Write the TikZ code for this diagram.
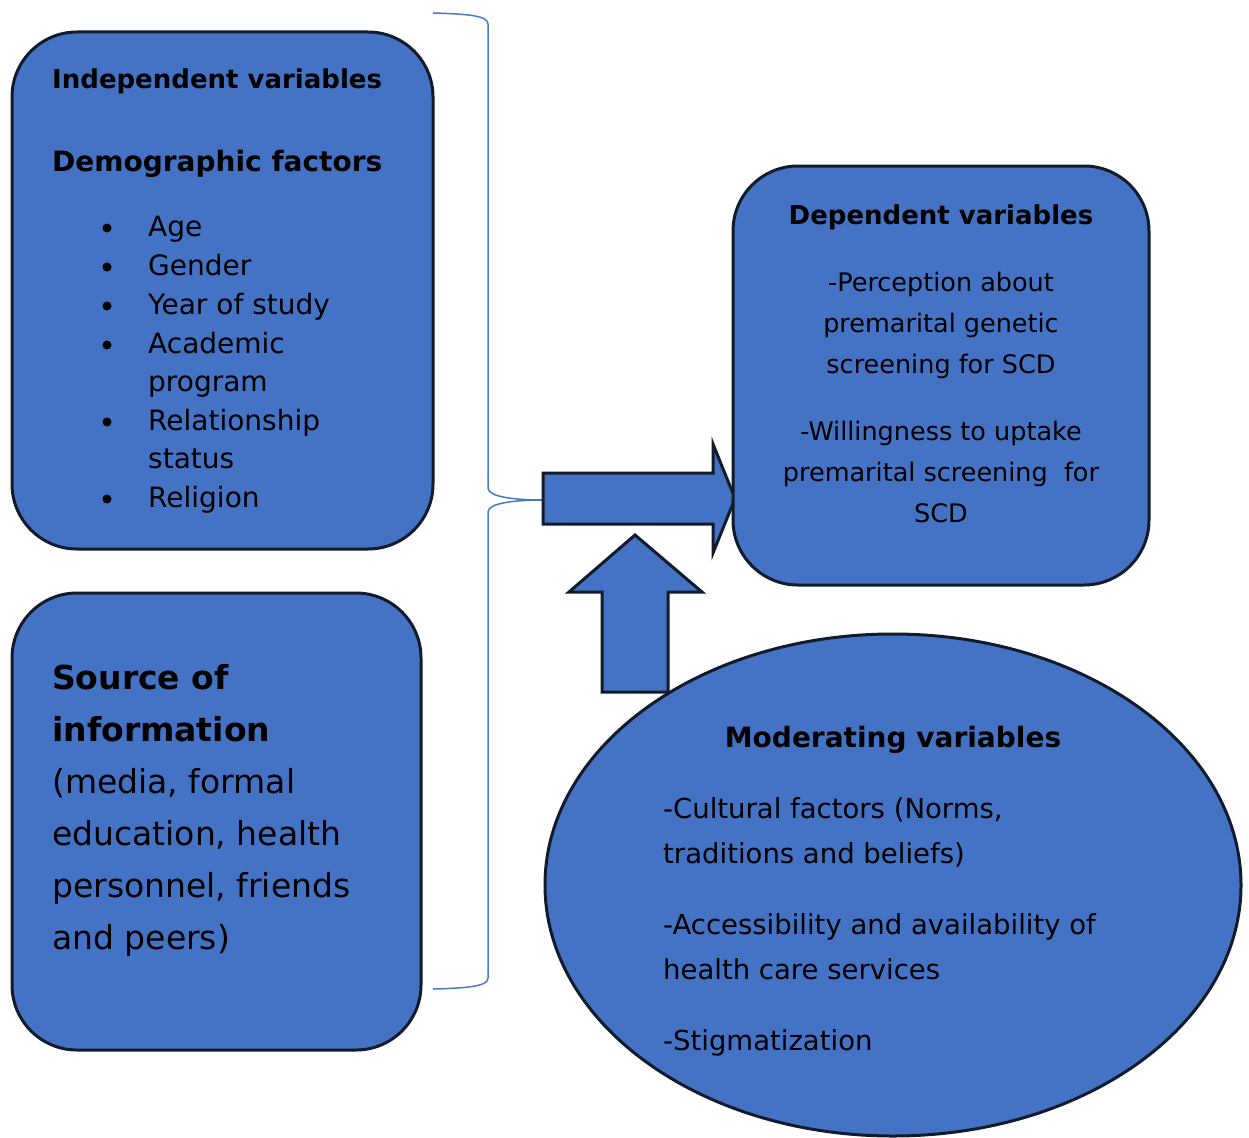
\documentclass[tikz,border=0pt]{standalone}
\usepackage{fontspec}
\setmainfont{DejaVu Sans}
\usetikzlibrary{shapes.geometric}
\definecolor{fillblue}{HTML}{4472C4}
\definecolor{edgec}{HTML}{111B2B}
\definecolor{bracec}{HTML}{4A78CC}
\newcommand\fsTitle{\fontsize{26}{32}\selectfont\bfseries}
\newcommand\fsHead{\fontsize{28}{34}\selectfont\bfseries}
\newcommand\fsList{\fontsize{28}{34}\selectfont}
\newcommand\fsBig{\fontsize{33}{40}\selectfont}
\newcommand\fsDep{\fontsize{25.5}{31}\selectfont}
\newcommand\fsMod{\fontsize{27.5}{33}\selectfont}
\begin{document}
\begin{tikzpicture}[x=1pt,y=-1pt,
  box/.style={draw=edgec, line width=3pt, fill=fillblue, rounded corners=65pt, inner sep=0pt},
  fat/.style={draw=edgec, line width=3pt, fill=fillblue, line join=miter},
  txt/.style={inner sep=0pt, anchor=base west, text=black},
  ctxt/.style={inner sep=0pt, anchor=base, text=black},
  bul/.style={circle, fill=black, inner sep=0pt, minimum size=9pt},
  bracel/.style={draw=bracec, line width=1.5pt},
]
\useasboundingbox (0,0) rectangle (1249,1137);

% brace
\coordinate (btop) at (433,13);
\coordinate (bbot) at (433,989);
\coordinate (btip) at (543,500);
\draw[bracel] (btop) .. controls (470,14) and (488,16) .. (488,24) -- (488,488)
  .. controls (488,497) and (515,500) .. (btip)
  .. controls (515,500) and (488,503) .. (488,512) -- (488,978)
  .. controls (488,986) and (470,988) .. (bbot);

% arrows
\draw[fat] (btip |- 0,473) -- (713,473) -- (713,444) -- (735,498.5) -- (713,553) -- (713,524) -- (btip |- 0,524) -- cycle;
\draw[fat] (602,692) -- (602,592) -- (569,592) -- (635,535) -- (702,592) -- (668,592) -- (668,692) -- cycle;

% boxes
\node[box, minimum width=421pt, minimum height=517pt] (indep) at (222.5,290.5) {};
\node[box, minimum width=409pt, minimum height=457pt] (source) at (216.5,821.5) {};
\node[box, minimum width=416pt, minimum height=419pt] (dep) at (941,375.5) {};
\node[ellipse, draw=edgec, line width=3pt, fill=fillblue, minimum width=696pt, minimum height=502pt, inner sep=0pt] (mod) at (893,885) {};

% independent variables text
\node[txt] (t1) at (52,89) {\fsTitle Independent variables};
\node[txt] (t2) at (52,171) {\fsHead Demographic factors};
\node[txt] (l1) at (148,236) {\fsList Age};
\node[txt] (l2) at (148,275) {\fsList Gender};
\node[txt] (l3) at (148,314) {\fsList Year of study};
\node[txt] (l4) at (148,353) {\fsList Academic};
\node[txt] (l4b) at (148,391) {\fsList program};
\node[txt] (l5) at (148,430) {\fsList Relationship};
\node[txt] (l5b) at (148,468) {\fsList status};
\node[txt] (l6) at (148,507) {\fsList Religion};
\node[bul] (b1) at (107,228) {};
\node[bul] (b2) at (107,267) {};
\node[bul] (b3) at (107,306) {};
\node[bul] (b4) at (107,345) {};
\node[bul] (b5) at (107,422) {};
\node[bul] (b6) at (107,499) {};

% source of information
\node[txt] (s1) at (52,689) {\fsBig\bfseries Source of};
\node[txt] (s2) at (52,741) {\fsBig\bfseries information};
\node[txt] (s3) at (52,793) {\fsBig (media, formal};
\node[txt] (s4) at (52,845) {\fsBig education, health};
\node[txt] (s5) at (52,897) {\fsBig personnel, friends};
\node[txt] (s6) at (52,949) {\fsBig and peers)};

% dependent variables
\node[ctxt] (d0) at (941,224) {\fsTitle Dependent variables};
\node[ctxt] (d1) at (941,291) {\fsDep -Perception about};
\node[ctxt] (d2) at (941,332) {\fsDep premarital genetic};
\node[ctxt] (d3) at (941,373) {\fsDep screening for SCD};
\node[ctxt] (d4) at (941,440) {\fsDep -Willingness to uptake};
\node[ctxt] (d5) at (941,481) {\fsDep premarital screening\ \ for};
\node[ctxt] (d6) at (941,522) {\fsDep SCD};

% moderating variables
\node[ctxt] (m0) at (893,747) {\fsHead Moderating variables};
\node[txt] (m1) at (663,818) {\fsMod -Cultural factors (Norms,};
\node[txt] (m2) at (663,863) {\fsMod traditions and beliefs)};
\node[txt] (m3) at (663,934) {\fsMod -Accessibility and availability of};
\node[txt] (m4) at (663,979) {\fsMod health care services};
\node[txt] (m5) at (663,1050) {\fsMod -Stigmatization};
\end{tikzpicture}
\end{document}
